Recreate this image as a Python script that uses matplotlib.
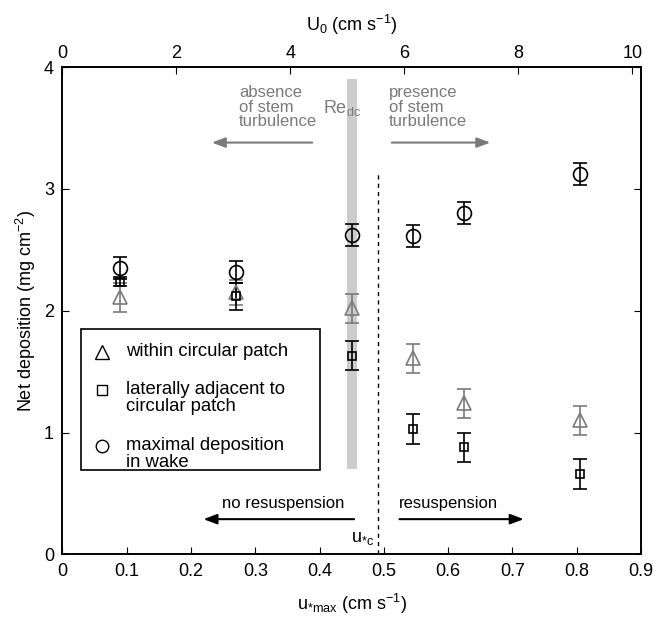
import matplotlib
matplotlib.use("Agg")
import matplotlib.pyplot as plt
from matplotlib.patches import Rectangle

plt.rcParams['font.family'] = ['Liberation Sans', 'DejaVu Sans']
plt.rcParams['mathtext.fontset'] = 'custom'
plt.rcParams['mathtext.rm'] = 'Liberation Sans'
plt.rcParams['mathtext.it'] = 'Liberation Sans'
plt.rcParams['mathtext.default'] = 'regular'

# u*max (cm/s) for each experiment
u_star = [0.09, 0.27, 0.45, 0.545, 0.625, 0.805]

# net deposition (mg cm^-2) and error bars
wake = [2.35, 2.32, 2.62, 2.61, 2.80, 3.12]
wake_err = [0.09, 0.09, 0.09, 0.09, 0.09, 0.09]
adjacent = [2.24, 2.12, 1.63, 1.03, 0.88, 0.66]
adjacent_err = [0.04, 0.11, 0.12, 0.12, 0.12, 0.12]
within = [2.11, 2.15, 2.02, 1.61, 1.24, 1.10]
within_err = [0.12, 0.10, 0.12, 0.12, 0.12, 0.12]

labels = ['within circular patch',
          'laterally adjacent to\ncircular patch',
          'maximal deposition\nin wake']

top_ticks = [0, 2, 4, 6, 8, 10]
gray = '#7a7a7a'

fig = plt.figure(figsize=(6.55, 6.17), dpi=100)
ax = fig.add_axes([0.0953, 0.1013, 0.8833, 0.7901])

# Re_dc band and critical u*
ax.add_patch(Rectangle((0.443, 0.7), 0.016, 3.2, color='#cccccc', lw=0, zorder=0))
ax.plot([0.491, 0.491], [0, 3.13], 'k--', lw=1, dashes=(3, 3))

ax.errorbar(u_star, within, yerr=within_err, fmt='^', color=gray, mfc='none',
            ms=10, capsize=5, elinewidth=1.2, mew=1.2)
ax.errorbar(u_star, adjacent, yerr=adjacent_err, fmt='s', color='k', mfc='none',
            ms=6, capsize=5, elinewidth=1.2, mew=1.2)
ax.errorbar(u_star, wake, yerr=wake_err, fmt='o', color='k', mfc='none',
            ms=10, capsize=5, elinewidth=1.2, mew=1.2)

ax.set_xlim(0, 0.9)
ax.set_ylim(0, 4)
ax.set_xticks([0, 0.1, 0.2, 0.3, 0.4, 0.5, 0.6, 0.7, 0.8, 0.9])
ax.set_xticklabels(['0', '0.1', '0.2', '0.3', '0.4', '0.5', '0.6', '0.7', '0.8', '0.9'])
ax.set_yticks([0, 1, 2, 3, 4])
ax.tick_params(direction='in', length=5, labelsize=13, right=True, top=False, pad=6)
ax.set_xlabel(r'u$_{*max}$ (cm s$^{-1}$)', fontsize=13, labelpad=9)
ax.set_ylabel(r'Net deposition (mg cm$^{-2}$)', fontsize=13)

ax2 = ax.twiny()
ax2.set_xlim(0, 10.15)
ax2.set_xticks(top_ticks)
ax2.tick_params(direction='in', length=5, labelsize=13)
ax2.set_xlabel(r'U$_0$ (cm s$^{-1}$)', fontsize=13, labelpad=10)

# annotations at top
ax.text(0.275, 3.67, 'absence\nof stem\nturbulence', color=gray, fontsize=12,
        va='center', ha='left', linespacing=0.95)
ax.text(0.508, 3.67, 'presence\nof stem\nturbulence', color=gray, fontsize=12,
        va='center', ha='left', linespacing=0.95)
ax.text(0.405, 3.66, r'Re$_{dc}$', color=gray, fontsize=13, va='center', ha='left')
ax.annotate('', xy=(0.228, 3.38), xytext=(0.393, 3.38),
            arrowprops=dict(arrowstyle='-|>,head_length=0.8,head_width=0.3',
                            color=gray, lw=1.5))
ax.annotate('', xy=(0.67, 3.38), xytext=(0.508, 3.38),
            arrowprops=dict(arrowstyle='-|>,head_length=0.8,head_width=0.3',
                            color=gray, lw=1.5))

# annotations at bottom
ax.text(0.343, 0.42, 'no resuspension', fontsize=12, ha='center', va='center')
ax.text(0.601, 0.42, 'resuspension', fontsize=12, ha='center', va='center')
ax.annotate('', xy=(0.215, 0.29), xytext=(0.458, 0.29),
            arrowprops=dict(arrowstyle='-|>,head_length=0.8,head_width=0.3',
                            color='k', lw=1.5))
ax.annotate('', xy=(0.722, 0.29), xytext=(0.52, 0.29),
            arrowprops=dict(arrowstyle='-|>,head_length=0.8,head_width=0.3',
                            color='k', lw=1.5))
ax.text(0.485, 0.13, r'u$_{*c}$', fontsize=13, ha='right', va='center')

# legend drawn by hand in axes coordinates
ax.add_patch(Rectangle((0.032, 0.173), 0.413, 0.29, transform=ax.transAxes,
                       fill=False, ec='k', lw=1.2, zorder=5))
leg_y = [0.416, 0.321, 0.206]
leg_markers = [('^', 10), ('s', 7), ('o', 9)]
for yy, (m, s), lab in zip(leg_y, leg_markers, labels):
    ax.plot([0.068], [yy + (0.016 if '\n' in lab else 0)], m, ms=s, mfc='none',
            mec='k', mew=1.0, transform=ax.transAxes, zorder=6)
    ax.text(0.11, yy, lab, transform=ax.transAxes, fontsize=13.3, va='center',
            ha='left', linespacing=0.95, zorder=6)

for a in (ax, ax2):
    for sp in a.spines.values():
        sp.set_linewidth(1.2)

fig.savefig('out.png', dpi=100)
